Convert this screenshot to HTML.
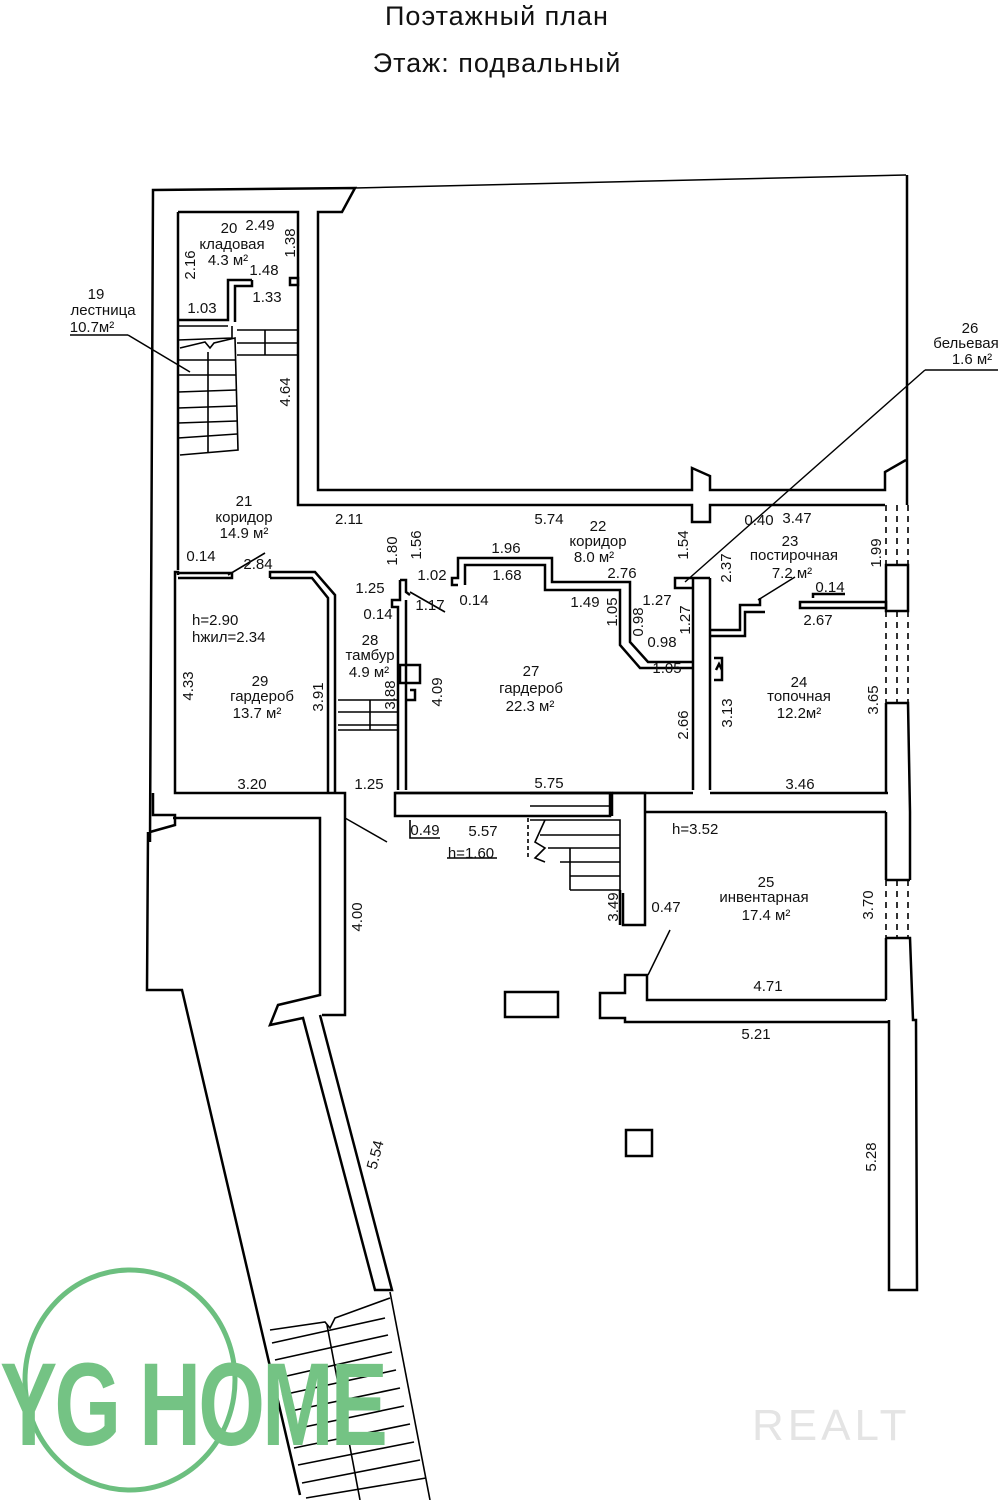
<!DOCTYPE html>
<html><head><meta charset="utf-8"><style>
html,body{margin:0;padding:0;background:#fff;}
svg{display:block}
text{font-family:"Liberation Sans","DejaVu Sans",sans-serif;fill:#111;}
</style></head><body>
<svg width="1000" height="1500" viewBox="0 0 1000 1500" xmlns="http://www.w3.org/2000/svg">
<g font-size="27" text-anchor="middle" style="letter-spacing:1px">
<text x="497" y="25">Поэтажный план</text>
<text x="497" y="72">Этаж: подвальный</text>
</g>
<g fill="none" stroke="#000" stroke-width="2.5" stroke-linejoin="miter">
<polyline points="150,842 153,190 355,188 342,212 318,212 318,490 692,490 692,468 710,476 710,490 885,490 885,472 906,460"/>
<line x1="355" y1="188" x2="906" y2="175" stroke-width="1.5"/>
<line x1="907" y1="175" x2="907" y2="505"/>
<polyline points="178,212 298,212 298,505 692,505 692,522 710,522 710,505 885,505"/>
<line x1="178" y1="212" x2="178" y2="570"/>
<polyline points="178,575 178,572 175,572 175,793 333,793"/>
<polyline points="178,320 228,320 228,280 252,280"/>
<polyline points="252,280 252,286 235,286 235,322"/>
<rect x="290" y="278" width="8" height="7"/>
<g stroke-width="1.6">
<line x1="178" y1="326" x2="228" y2="326"/>
<polyline points="232,326 232,338 178,340"/>
<polyline points="180,348 205,342 210,348 214,343 235,338 238,450 180,455"/>
<line x1="178" y1="360" x2="236" y2="360"/><line x1="178" y1="375" x2="236" y2="375"/>
<line x1="178" y1="392" x2="236" y2="390"/><line x1="178" y1="408" x2="236" y2="406"/>
<line x1="178" y1="423" x2="237" y2="421"/><line x1="178" y1="438" x2="237" y2="434"/>
<line x1="208" y1="352" x2="208" y2="452"/>
<polyline points="237,330 298,330 298,355 237,355"/><line x1="237" y1="343" x2="298" y2="343"/><line x1="265" y1="330" x2="265" y2="355"/>
<line x1="128" y1="335" x2="190" y2="372"/>
<line x1="70" y1="335" x2="128" y2="335"/>
</g>
<polyline points="178,573 232,573 232,578 178,578"/>
<polyline points="270,578 270,572 315,572 335,595 335,793"/>
<polyline points="270,578 312,578 328,598 328,793"/>
<polyline points="153,793 153,815 175,815 175,825 150,832"/>
<polyline points="173,818 320,818 320,995 278,1005 270,1025 303,1018 375,1290 392,1290 320,1015"/>
<polyline points="333,793 345,793 345,1015 322,1015"/>
<polyline points="148,832 147,990 182,990 300,1495"/>
<line x1="345" y1="818" x2="387" y2="842" stroke-width="1.5"/>
<polyline points="400,580 406,580 406,592 410,595"/>
<polyline points="400,580 400,600 392,600 392,607 398,607 398,790"/>
<polyline points="406,600 406,790"/>
<rect x="400" y="665" width="20" height="18"/>
<polyline points="410,690 415,690 415,700 405,700"/>
<g stroke-width="1.6">
<line x1="338" y1="700" x2="398" y2="700"/><line x1="338" y1="712" x2="398" y2="712"/>
<line x1="338" y1="725" x2="398" y2="725"/><line x1="338" y1="730" x2="398" y2="730"/>
<line x1="370" y1="700" x2="370" y2="730"/>
<line x1="410" y1="592" x2="445" y2="612"/>
<line x1="228" y1="575" x2="265" y2="553"/>
</g>
<polyline points="458,585 452,585 452,578 458,578 458,558 552,558 552,582 630,582 630,642 648,662 693,662"/>
<polyline points="465,585 465,565 545,565 545,590 620,590 620,645 640,668 693,668"/>
<polyline points="693,578 675,578 675,588 693,588"/>
<line x1="693" y1="578" x2="693" y2="790"/>
<polyline points="710,578 710,790"/>
<polyline points="693,578 710,578"/>
<rect x="395" y="793" width="215" height="23"/>
<polyline points="530,793 612,793 612,816"/>
<polyline points="612,793 645,793 645,812"/>
<line x1="395" y1="793" x2="693" y2="793"/>
<line x1="710" y1="793" x2="888" y2="793"/>
<g stroke-width="1.6">
<line x1="530" y1="806" x2="612" y2="806"/>
<polyline points="530,820 620,820 620,890"/>
<line x1="540" y1="835" x2="620" y2="835"/><line x1="548" y1="848" x2="620" y2="848"/>
<line x1="560" y1="862" x2="620" y2="862"/><line x1="570" y1="876" x2="620" y2="876"/>
<polyline points="545,820 535,842 545,848 535,858 545,862"/>
<line x1="570" y1="848" x2="570" y2="890"/><line x1="570" y1="890" x2="620" y2="890"/>
<line x1="528" y1="818" x2="528" y2="860" stroke-dasharray="4,3"/>
<polyline points="410,820 410,838 440,838"/>
<line x1="447" y1="858" x2="497" y2="858"/>
</g>
<polyline points="710,630 740,630 740,605 760,605 760,598"/>
<polyline points="710,636 745,636 745,612 765,612"/>
<line x1="758" y1="600" x2="795" y2="577" stroke-width="1.5"/>
<rect x="800" y="602" width="86" height="6"/>
<polyline points="813,598 813,594 845,594"/>
<polyline points="714,658 722,658 722,680 714,680"/>
<polyline points="716,670 719,664 722,670"/>
<rect x="886" y="565" width="22" height="46"/>
<g stroke-width="1.6" stroke-dasharray="6,5">
<line x1="886" y1="505" x2="886" y2="565"/><line x1="897" y1="505" x2="897" y2="565"/><line x1="908" y1="505" x2="908" y2="565"/>
<line x1="886" y1="611" x2="886" y2="703"/><line x1="897" y1="611" x2="897" y2="703"/><line x1="908" y1="611" x2="908" y2="703"/>
<line x1="886" y1="880" x2="886" y2="938"/><line x1="897" y1="880" x2="897" y2="938"/><line x1="908" y1="880" x2="908" y2="938"/>
</g>
<polyline points="886,703 908,703 910,812 910,880"/>
<polyline points="886,703 886,793"/>
<line x1="886" y1="880" x2="910" y2="880"/>
<line x1="886" y1="812" x2="886" y2="880"/>
<polyline points="886,938 910,938 913,1020 916,1020 917,1290 889,1290 889,1020"/>
<line x1="886" y1="938" x2="886" y2="1000"/>
<polyline points="645,812 886,812"/>
<polyline points="645,812 645,925 623,925 623,893"/>
<polyline points="620,925 620,890"/>
<line x1="670" y1="930" x2="648" y2="975" stroke-width="1.5"/>
<polyline points="886,1000 647,1000 647,975 625,975 625,993 600,993 600,1018 625,1018 625,1022 889,1022"/>
<rect x="505" y="992" width="53" height="25"/>
<rect x="626" y="1130" width="26" height="26"/>
<line x1="685" y1="582" x2="925" y2="370" stroke-width="1.4"/>
<line x1="925" y1="370" x2="998" y2="370" stroke-width="1.4"/>
<g stroke-width="1.6">
<polyline points="270,1330 325,1322 330,1328 335,1318 390,1298"/>
<line x1="390" y1="1292" x2="430" y2="1500"/>
<line x1="327" y1="1325" x2="360" y2="1500"/>
<line x1="272" y1="1343" x2="385" y2="1318"/><line x1="275" y1="1360" x2="388" y2="1335"/>
<line x1="278" y1="1378" x2="392" y2="1352"/><line x1="282" y1="1395" x2="396" y2="1370"/>
<line x1="286" y1="1412" x2="400" y2="1388"/><line x1="290" y1="1430" x2="404" y2="1406"/>
<line x1="294" y1="1448" x2="410" y2="1424"/><line x1="298" y1="1465" x2="414" y2="1442"/>
<line x1="302" y1="1483" x2="420" y2="1460"/><line x1="306" y1="1498" x2="426" y2="1478"/>
</g>
</g>
<!-- watermarks -->
<g fill="none" stroke="#6cbf7f" stroke-width="5">
<ellipse cx="130" cy="1380" rx="105" ry="110"/>
</g>
<text x="0" y="1445" font-size="118" font-weight="bold" style="fill:#74c384;letter-spacing:-4px" textLength="385" lengthAdjust="spacingAndGlyphs">YG HOME</text>
<text x="752" y="1440" font-size="44" style="fill:#e4e4e4;letter-spacing:4px">REALT</text>
<g font-size="15" text-anchor="middle">
<text x="229" y="233">20</text><text x="260" y="230">2.49</text>
<text x="232" y="249">кладовая</text><text x="228" y="265">4.3 м²</text>
<text x="264" y="275">1.48</text><text x="267" y="302">1.33</text><text x="202" y="313">1.03</text>
<text x="96" y="299">19</text><text x="103" y="315">лестница</text><text x="92" y="332">10.7м²</text>
<text x="244" y="506">21</text><text x="244" y="522">коридор</text><text x="244" y="538">14.9 м²</text>
<text x="349" y="524">2.11</text><text x="549" y="524">5.74</text>
<text x="598" y="531">22</text><text x="598" y="546">коридор</text><text x="594" y="562">8.0 м²</text>
<text x="506" y="553">1.96</text><text x="507" y="580">1.68</text><text x="622" y="578">2.76</text>
<text x="432" y="580">1.02</text><text x="474" y="605">0.14</text><text x="585" y="607">1.49</text>
<text x="657" y="605">1.27</text><text x="662" y="647">0.98</text><text x="667" y="673">1.05</text>
<text x="201" y="561">0.14</text><text x="258" y="569">2.84</text>
<text x="370" y="593">1.25</text><text x="378" y="619">0.14</text><text x="430" y="610">1.17</text>
<text x="370" y="645">28</text><text x="370" y="660">тамбур</text><text x="369" y="677">4.9 м²</text>
<text x="192" y="625" text-anchor="start">h=2.90</text>
<text x="192" y="642" text-anchor="start">hжил=2.34</text>
<text x="260" y="686">29</text><text x="262" y="701">гардероб</text><text x="257" y="718">13.7 м²</text>
<text x="531" y="676">27</text><text x="531" y="693">гардероб</text><text x="530" y="711">22.3 м²</text>
<text x="252" y="789">3.20</text><text x="369" y="789">1.25</text><text x="549" y="788">5.75</text>
<text x="425" y="835">0.49</text><text x="483" y="836">5.57</text><text x="471" y="858">h=1.60</text>
<text x="759" y="525">0.40</text><text x="797" y="523">3.47</text>
<text x="790" y="546">23</text>
<text x="794" y="560">постирочная</text>
<text x="792" y="578">7.2 м²</text>
<text x="830" y="592">0.14</text>
<text x="818" y="625">2.67</text>
<text x="799" y="687">24</text>
<text x="799" y="701">топочная</text>
<text x="799" y="718">12.2м²</text>
<text x="800" y="789">3.46</text>
<text x="672" y="834" text-anchor="start">h=3.52</text>
<text x="766" y="887">25</text>
<text x="764" y="902">инвентарная</text>
<text x="766" y="920">17.4 м²</text>
<text x="666" y="912">0.47</text>
<text x="768" y="991">4.71</text>
<text x="756" y="1039">5.21</text>
<text x="970" y="333">26</text>
<text x="966" y="348">бельевая</text>
<text x="972" y="364">1.6 м²</text>
</g>
<g font-size="15" text-anchor="middle">
<text transform="translate(195,265) rotate(-90)">2.16</text>
<text transform="translate(295,243) rotate(-90)">1.38</text>
<text transform="translate(290,392) rotate(-90)">4.64</text>
<text transform="translate(397,551) rotate(-90)">1.80</text>
<text transform="translate(421,545) rotate(-90)">1.56</text>
<text transform="translate(688,545) rotate(-90)">1.54</text>
<text transform="translate(731,568) rotate(-90)">2.37</text>
<text transform="translate(690,620) rotate(-90)">1.27</text>
<text transform="translate(617,612) rotate(-90)">1.05</text>
<text transform="translate(643,622) rotate(-90)">0.98</text>
<text transform="translate(193,686) rotate(-90)">4.33</text>
<text transform="translate(323,697) rotate(-90)">3.91</text>
<text transform="translate(395,695) rotate(-90)">3.88</text>
<text transform="translate(442,692) rotate(-90)">4.09</text>
<text transform="translate(688,725) rotate(-90)">2.66</text>
<text transform="translate(732,713) rotate(-90)">3.13</text>
<text transform="translate(878,700) rotate(-90)">3.65</text>
<text transform="translate(881,553) rotate(-90)">1.99</text>
<text transform="translate(873,905) rotate(-90)">3.70</text>
<text transform="translate(618,907) rotate(-90)">3.49</text>
<text transform="translate(362,917) rotate(-90)">4.00</text>
<text transform="translate(380,1156) rotate(-75)">5.54</text>
<text transform="translate(876,1157) rotate(-90)">5.28</text>
</g>
</svg>
</body></html>
